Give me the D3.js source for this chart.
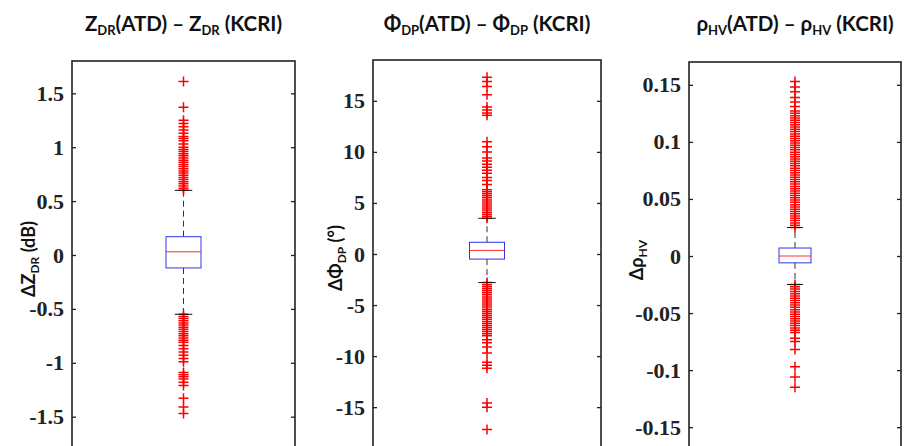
<!DOCTYPE html>
<html><head><meta charset="utf-8">
<script src="https://cdn.jsdelivr.net/npm/d3@7"></script>
<style>body{margin:0;background:#fff}
.tl{font-family:"Liberation Serif","Times New Roman",serif;font-weight:bold;font-size:22px;fill:#222}
</style>
</head><body>
<svg id="c" width="909" height="446"></svg>
<script>
// ---- Data ----
const panels = ["ZDR", "PhiDP", "RhoHV"];
// box statistics: [lowerWhisker, q1, median, q3, upperWhisker]
const zdrStats = [-0.55, -0.12, 0.03, 0.17, 0.60];
const phiStats = [-2.8, -0.5, 0.35, 1.15, 3.5];
const rhoStats = [-0.025, -0.006, 0.0, 0.007, 0.025];

const zdrOutliers = [0.60,0.62,0.64,0.66,0.68,0.70,0.72,0.74,0.76,0.78,0.80,0.82,0.84,0.86,0.88,0.90,0.92,0.94,0.96,0.98,1.00,
  1.03,1.06,1.08,1.10,1.13,1.16,1.19,1.22,1.25,1.37,1.61,
  -0.55,-0.57,-0.59,-0.61,-0.63,-0.65,-0.67,-0.69,-0.71,-0.73,-0.75,-0.77,-0.79,-0.81,
  -0.84,-0.87,-0.90,-0.93,-0.96,-0.99,-1.09,-1.11,-1.13,-1.15,-1.18,-1.21,-1.33,-1.41,-1.47];
const phiOutliers = [3.5,3.7,3.9,4.1,4.3,4.5,4.7,4.9,5.1,5.3,5.5,5.7,5.9,6.1,6.3,
  6.8,7.2,7.5,7.9,8.2,8.5,8.8,9.1,9.4,10.0,10.5,11.0,13.6,13.8,14.1,14.4,15.6,16.4,16.9,17.3,
  -2.8,-3.0,-3.2,-3.4,-3.6,-3.8,-4.0,-4.2,-4.4,-4.6,-4.8,-5.0,-5.2,-5.4,-5.6,-5.8,-6.0,-6.2,-6.4,-6.6,-6.8,-7.0,-7.2,-7.4,-7.6,-7.8,-8.0,
  -8.4,-8.7,-9.1,-9.7,-10.6,-10.9,-11.2,-14.6,-15.0,-17.2];
const rhoOutliers = [0.025,0.027,0.029,0.031,0.033,0.035,0.037,0.039,0.041,0.043,0.045,0.047,0.049,0.051,0.053,0.055,0.057,0.059,
  0.061,0.063,0.065,0.067,0.069,0.071,0.073,0.075,0.077,0.079,0.081,0.083,0.085,0.087,0.089,0.091,0.093,0.095,0.097,0.099,
  0.101,0.103,0.105,0.107,0.109,0.111,0.113,0.115,0.117,0.119,0.121,0.123,0.125,0.127,
  0.131,0.135,0.139,0.144,0.148,0.153,
  -0.025,-0.027,-0.029,-0.031,-0.033,-0.035,-0.037,-0.039,-0.041,-0.043,-0.045,-0.047,-0.049,-0.051,-0.053,-0.055,-0.057,-0.059,-0.061,-0.063,-0.065,-0.067,
  -0.072,-0.075,-0.082,-0.097,-0.106,-0.115];

const zdrTicks = [-1.5,-1,-0.5,0,0.5,1,1.5];
const phiTicks = [-15,-10,-5,0,5,10,15];
const rhoTicks = [-0.15,-0.1,-0.05,0,0.05,0.1,0.15];
const zdrDomain = [-1.8, 1.8];
const phiDomain = [-19, 19];
const rhoDomain = [-0.17, 0.17];

// ---- Layout ----
const svg = d3.select("#c");
const layout = [
  {left:72, right:295, top:61, bottom:449, boxW:35, labelX:28,
   title:[["Z",""],["DR","sub"],["(ATD) – Z",""],["DR","sub"],[" (KCRI)",""]],
   ylab:[["ΔZ",""],["DR","sub"],[" (dB)",""]],
   stats:zdrStats, out:zdrOutliers, ticks:zdrTicks, dom:zdrDomain},
  {left:373, right:601, top:60, bottom:448, boxW:35, labelX:335,
   title:[["Φ",""],["DP","sub"],["(ATD) – Φ",""],["DP","sub"],[" (KCRI)",""]],
   ylab:[["ΔΦ",""],["DP","sub"],[" (°)",""]],
   stats:phiStats, out:phiOutliers, ticks:phiTicks, dom:phiDomain},
  {left:689, right:901, top:62, bottom:450, boxW:32, labelX:636,
   title:[["ρ",""],["HV","sub"],["(ATD) – ρ",""],["HV","sub"],[" (KCRI)",""]],
   ylab:[["Δρ",""],["HV","sub"]],
   stats:rhoStats, out:rhoOutliers, ticks:rhoTicks, dom:rhoDomain}
];

function addRich(textSel, parts, subSize){
  parts.forEach(([t,k])=>{
    const ts = textSel.append("tspan").text(t);
    if(k==="sub"){ ts.attr("font-size", subSize).attr("dy", 4); }
    else { ts.attr("dy", textSel.selectAll("tspan").size()>1 ? -4 : 0); }
  });
}

layout.forEach((p,i)=>{
  const g = svg.append("g");
  const y = d3.scaleLinear().domain(p.dom).range([p.bottom, p.top]);
  const x = d3.scaleBand().domain([panels[i]]).range([p.left, p.right]).padding(0);
  const cx = x(panels[i]) + x.bandwidth()/2;
  const fmt = d => String(d);

  // axes
  const axL = d3.axisLeft(y).tickValues(p.ticks).tickFormat(fmt).tickSizeInner(-4).tickSizeOuter(0).tickPadding(8);
  const axR = d3.axisRight(y).tickValues(p.ticks).tickFormat("").tickSizeInner(-4).tickSizeOuter(0);
  const gl = g.append("g").attr("transform",`translate(${p.left},0)`).call(axL);
  const gr = g.append("g").attr("transform",`translate(${p.right},0)`).call(axR);
  [gl,gr].forEach(a=>{
    a.select(".domain").remove();
    a.attr("font-family",null).attr("font-size",null);
    a.selectAll(".tick line").attr("stroke","#222").attr("stroke-width",1.3);
  });
  gl.selectAll(".tick text").attr("class","tl").attr("fill",null);

  // frame
  g.append("rect").attr("x",p.left).attr("y",p.top).attr("width",p.right-p.left).attr("height",p.bottom-p.top)
    .attr("fill","none").attr("stroke","#222").attr("stroke-width",1.6);

  const [lw,q1,med,q3,uw] = p.stats;
  // whiskers
  g.append("line").attr("x1",cx).attr("x2",cx).attr("y1",y(q3)).attr("y2",y(uw))
    .attr("stroke","#333").attr("stroke-dasharray","6,4").attr("stroke-width",1);
  g.append("line").attr("x1",cx).attr("x2",cx).attr("y1",y(q1)).attr("y2",y(lw))
    .attr("stroke","#333").attr("stroke-dasharray","6,4").attr("stroke-width",1);
  // outliers
  const s = 5;
  const og = g.append("g").attr("stroke","#ff0000").attr("stroke-width",1.5);
  og.selectAll("path").data(p.out).join("path")
    .attr("d", d=>`M${cx-s},${y(d)}H${cx+s}M${cx},${y(d)-s}V${y(d)+s}`);
  // caps
  [lw,uw].forEach(v=>{
    g.append("line").attr("x1",cx-p.boxW/4).attr("x2",cx+p.boxW/4).attr("y1",y(v)).attr("y2",y(v))
      .attr("stroke","#111").attr("stroke-width",1);
  });
  // box
  g.append("rect").attr("x",cx-p.boxW/2).attr("width",p.boxW).attr("y",y(q3)).attr("height",y(q1)-y(q3))
    .attr("fill","none").attr("stroke","#3333ee").attr("stroke-width",1);
  g.append("line").attr("x1",cx-p.boxW/2).attr("x2",cx+p.boxW/2).attr("y1",y(med)).attr("y2",y(med))
    .attr("stroke","#ff3030").attr("stroke-width",1);

  // title
  const t = svg.append("text").attr("x",(p.left+p.right)/2).attr("y",31).attr("text-anchor","middle")
    .attr("font-family","Lato, 'Open Sans', sans-serif").attr("font-weight","bold").attr("font-size",20.5).attr("fill","#111");
  addRich(t, p.title, 13);

  // y label
  const ly = (p.top+p.bottom)/2 + 4;
  const yl = svg.append("text").attr("transform",`translate(${p.labelX+7},${ly}) rotate(-90)`).attr("text-anchor","middle")
    .attr("font-family","Lato, 'Open Sans', sans-serif").attr("font-weight","bold").attr("font-size",18).attr("fill","#111");
  addRich(yl, p.ylab, 12);
});
</script>
</body></html>
